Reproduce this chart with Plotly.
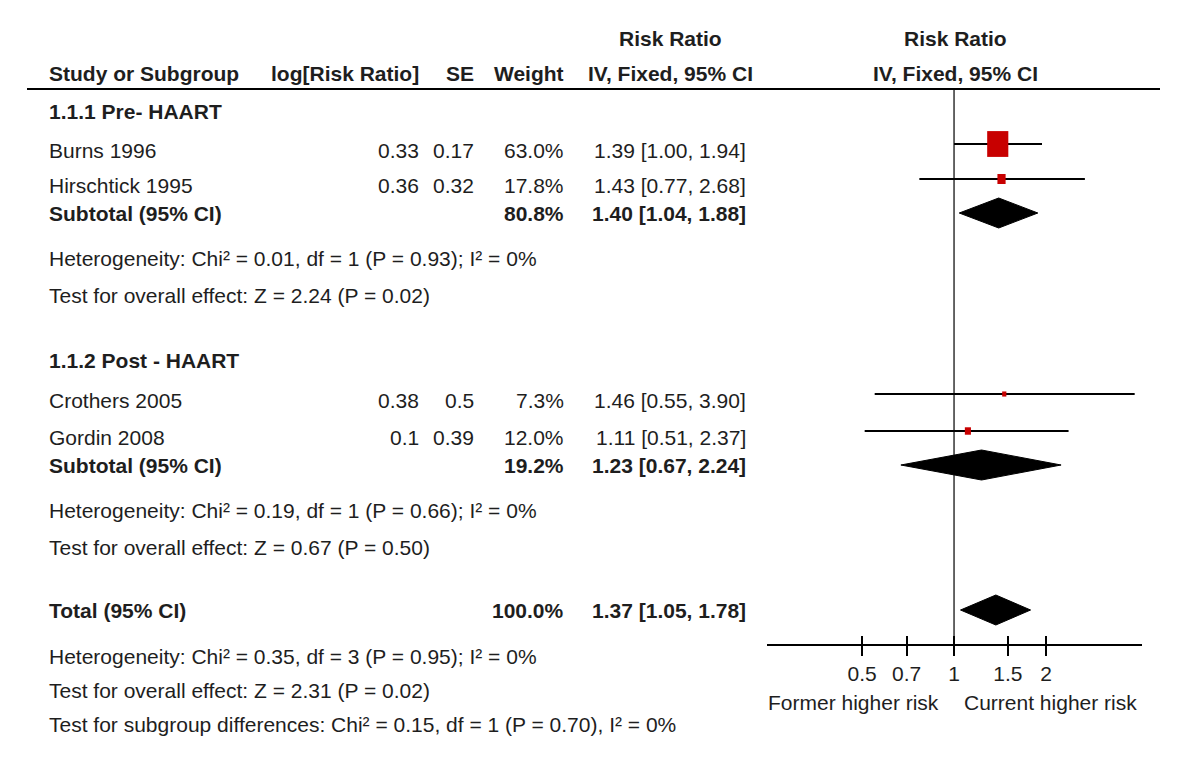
import numpy as np
import plotly.graph_objects as go

# ---------------- data ----------------
studies = ["Burns 1996", "Hirschtick 1995", "Crothers 2005", "Gordin 2008"]
study_group = [0, 0, 1, 1]
log_rr = ["0.33", "0.36", "0.38", "0.1"]
se = ["0.17", "0.32", "0.5", "0.39"]
weight = [63.0, 17.8, 7.3, 12.0]
rr = [1.39, 1.43, 1.46, 1.11]
ci_lo = [1.00, 0.77, 0.55, 0.51]
ci_hi = [1.94, 2.68, 3.90, 2.37]

group_labels = ["1.1.1 Pre- HAART", "1.1.2 Post - HAART"]
sub_weight = [80.8, 19.2]
sub_rr = [1.40, 1.23]
sub_lo = [1.04, 0.67]
sub_hi = [1.88, 2.24]
sub_het = ["Heterogeneity: Chi² = 0.01, df = 1 (P = 0.93); I² = 0%",
           "Heterogeneity: Chi² = 0.19, df = 1 (P = 0.66); I² = 0%"]
sub_effect = ["Test for overall effect: Z = 2.24 (P = 0.02)",
              "Test for overall effect: Z = 0.67 (P = 0.50)"]

total_weight = 100.0
total_rr = 1.37
total_lo = 1.05
total_hi = 1.78
total_notes = ["Heterogeneity: Chi² = 0.35, df = 3 (P = 0.95); I² = 0%",
               "Test for overall effect: Z = 2.31 (P = 0.02)",
               "Test for subgroup differences: Chi² = 0.15, df = 1 (P = 0.70), I² = 0%"]

tick_vals = [0.5, 0.7, 1, 1.5, 2]
tick_text = ["0.5", "0.7", "1", "1.5", "2"]
favours = ["Former higher risk", "Current higher risk"]

# ---------------- layout constants (page pixels) ----------------
W, H = 1200, 765
OFF = 8  # page body margin
FONT = "Liberation Sans, Arial, Helvetica, sans-serif"
FS = 21
TXT = "#1e1e1e"
RED = "#c80000"

X_NAME = 47
X_LOGRR = 421
X_SE = 476
X_WEIGHT = 566
X_CI = 748
X_CI_HDR = 670
X_PLOT_HDR = 955

PLOT_L, PLOT_R = 767, 1142
LOG_RANGE = [-0.612, 0.615]
PX_PER_DEC = (PLOT_R - PLOT_L) / (LOG_RANGE[1] - LOG_RANGE[0])
AXIS_Y = 645
HDR_LINE_Y = 89

Y_TITLE = 38
Y_HDR = 73
Y_GROUP = [111, 360]
Y_STUDY = [150, 185, 400, 437]
Y_SUB = [213, 465]
Y_HET = [258, 510]
Y_EFF = [295, 547]
Y_TOTAL = 610
Y_TOTAL_NOTES = [656, 690, 724]
MARK_OFFSET = -6
DIAMOND_HALF_H = 15

fig = go.Figure()
ann = []


def px(x):
    return (x - OFF) / W


def text(x, y, s, anchor="left", bold=False, size=FS):
    ann.append(dict(x=px(x), y=y, xref="paper", yref="y", text=f"<b>{s}</b>" if bold else s,
                    showarrow=False, xanchor=anchor, yanchor="middle",
                    font=dict(family=FONT, size=size, color=TXT)))


# headers
text(X_CI_HDR, Y_TITLE, "Risk Ratio", "center", True)
text(X_PLOT_HDR, Y_TITLE, "Risk Ratio", "center", True)
text(X_NAME, Y_HDR, "Study or Subgroup", "left", True)
text(X_LOGRR, Y_HDR, "log[Risk Ratio]", "right", True)
text(X_SE, Y_HDR, "SE", "right", True)
text(X_WEIGHT, Y_HDR, "Weight", "right", True)
text(X_CI_HDR, Y_HDR, "IV, Fixed, 95% CI", "center", True)
text(X_PLOT_HDR, Y_HDR, "IV, Fixed, 95% CI", "center", True)


def diamond(est, lo, hi, y):
    fig.add_trace(go.Scatter(x=[lo, est, hi, est, lo], y=[y, y - DIAMOND_HALF_H, y, y + DIAMOND_HALF_H, y],
                             fill="toself", fillcolor="black", mode="lines",
                             line=dict(color="black", width=1), hoverinfo="skip", showlegend=False))


# groups
for g in range(2):
    text(X_NAME, Y_GROUP[g], group_labels[g], "left", True)
    for i in range(len(studies)):
        if study_group[i] != g:
            continue
        y = Y_STUDY[i]
        text(X_NAME, y, studies[i])
        text(X_LOGRR, y, log_rr[i], "right")
        text(X_SE, y, se[i], "right")
        text(X_WEIGHT, y, f"{weight[i]:.1f}%", "right")
        text(X_CI, y, f"{rr[i]:.2f} [{ci_lo[i]:.2f}, {ci_hi[i]:.2f}]", "right")
        ym = y + MARK_OFFSET
        fig.add_trace(go.Scatter(x=[ci_lo[i], ci_hi[i]], y=[ym, ym], mode="lines",
                                 line=dict(color="black", width=2), hoverinfo="skip", showlegend=False))
        size = 1.05 * weight[i] ** 0.75
        hw = size * 0.45 / PX_PER_DEC
        hh = size * 0.55
        xl, xr = rr[i] * 10 ** (-hw), rr[i] * 10 ** hw
        fig.add_trace(go.Scatter(x=[xl, xr, xr, xl, xl], y=[ym - hh, ym - hh, ym + hh, ym + hh, ym - hh],
                                 fill="toself", fillcolor=RED, mode="lines", line=dict(color=RED, width=0),
                                 hoverinfo="skip", showlegend=False))
    ys = Y_SUB[g]
    text(X_NAME, ys, "Subtotal (95% CI)", "left", True)
    text(X_WEIGHT, ys, f"{sub_weight[g]:.1f}%", "right", True)
    text(X_CI, ys, f"{sub_rr[g]:.2f} [{sub_lo[g]:.2f}, {sub_hi[g]:.2f}]", "right", True)
    diamond(sub_rr[g], sub_lo[g], sub_hi[g], ys)
    text(X_NAME, Y_HET[g], sub_het[g])
    text(X_NAME, Y_EFF[g], sub_effect[g])

# total
text(X_NAME, Y_TOTAL, "Total (95% CI)", "left", True)
text(X_WEIGHT, Y_TOTAL, f"{total_weight:.1f}%", "right", True)
text(X_CI, Y_TOTAL, f"{total_rr:.2f} [{total_lo:.2f}, {total_hi:.2f}]", "right", True)
diamond(total_rr, total_lo, total_hi, Y_TOTAL)
for s, y in zip(total_notes, Y_TOTAL_NOTES):
    text(X_NAME, y, s)

# favours labels
text(853, 702, favours[0], "center")
text(1050, 702, favours[1], "center")

shapes = [
    dict(type="line", xref="paper", yref="y", x0=px(27), x1=px(1160), y0=HDR_LINE_Y, y1=HDR_LINE_Y,
         line=dict(color="black", width=2)),
    dict(type="line", xref="x", yref="y", x0=1, x1=1, y0=HDR_LINE_Y, y1=AXIS_Y,
         line=dict(color="#333333", width=1.5), layer="below"),
]

axis_pos = 1 - (AXIS_Y - OFF) / H
common_x = dict(type="log", domain=[px(PLOT_L), px(PLOT_R)], range=LOG_RANGE, showgrid=False,
                zeroline=False, anchor="free", position=axis_pos, tickvals=tick_vals, ticktext=tick_text)
fig.update_layout(
    width=W, height=H, margin=dict(l=0, r=0, t=0, b=0),
    paper_bgcolor="white", plot_bgcolor="rgba(0,0,0,0)",
    xaxis=dict(**common_x, showline=True, linecolor="black", linewidth=2, ticks="outside", ticklen=10,
               tickwidth=2, tickcolor="black", tickfont=dict(family=FONT, size=FS, color=TXT)),
    xaxis2=dict(**common_x, overlaying="x", showline=False, ticks="inside", ticklen=9, tickwidth=2,
                tickcolor="black", showticklabels=False),
    yaxis=dict(range=[H + OFF, OFF], domain=[0, 1], visible=False, fixedrange=True),
    annotations=ann, shapes=shapes, showlegend=False,
)
fig.add_trace(go.Scatter(x=[1], y=[AXIS_Y], xaxis="x2", mode="markers", marker=dict(opacity=0),
                         hoverinfo="skip", showlegend=False))

fig.write_html("out.html")
